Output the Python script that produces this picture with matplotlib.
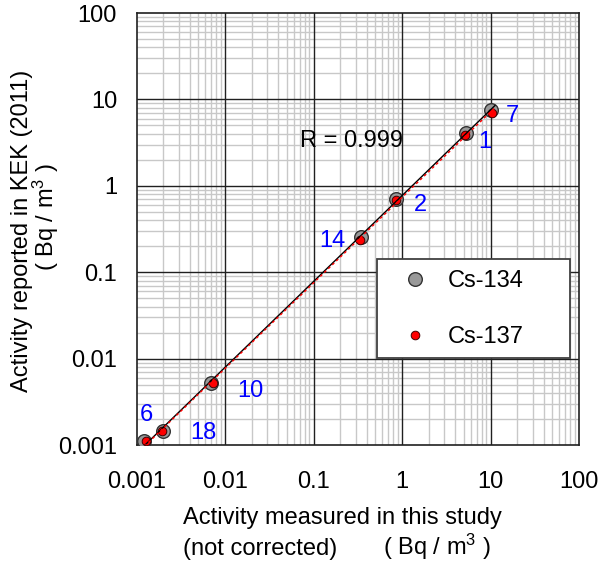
import numpy as np
import matplotlib
matplotlib.use("Agg")
import matplotlib.pyplot as plt
from matplotlib.ticker import LogLocator, FixedLocator, FixedFormatter, NullFormatter

plt.rcParams["font.family"] = ["Liberation Sans", "DejaVu Sans"]
plt.rcParams["mathtext.fontset"] = "custom"
plt.rcParams["mathtext.rm"] = "Liberation Sans"
plt.rcParams["mathtext.it"] = "Liberation Sans"
plt.rcParams["mathtext.bf"] = "Liberation Sans:bold"

# Sample numbers and activities (Bq/m3)
sample_ids = ["7", "1", "2", "14", "10", "18", "6"]
cs134_measured = [10.2, 5.25, 0.86, 0.342, 0.00695, 0.00201, 0.00122]
cs134_reported = [7.5, 4.10, 0.695, 0.258, 0.00517, 0.00146, 0.00112]
cs137_measured = [10.3, 5.15, 0.85, 0.333, 0.00726, 0.00194, 0.00128]
cs137_reported = [7.05, 3.85, 0.68, 0.233, 0.00517, 0.00145, 0.00111]

tick_values = [0.001, 0.01, 0.1, 1, 10, 100]
tick_labels = ["0.001", "0.01", "0.1", "1", "10", "100"]
r_text = "R = 0.999"
unit_text = r"( Bq / m$^{3}$ )"

FS = 17

# label offsets from each Cs-134 point, in pixels (dx right, dy down)
label_offsets = {"7": (21, 3), "1": (19, 7), "2": (24, 3), "14": (-28, 2),
                 "10": (39, 5), "18": (40, 0), "6": (2, -28)}

W, H = 601, 569
fig = plt.figure(figsize=(W / 100, H / 100), dpi=100)
ax_l, ax_r, ax_t, ax_b = 136.5, 579, 13, 445
ax = fig.add_axes([ax_l / W, 1 - ax_b / H, (ax_r - ax_l) / W, (ax_b - ax_t) / H])

ax.set_xscale("log")
ax.set_yscale("log")
ax.set_xlim(tick_values[0], tick_values[-1])
ax.set_ylim(tick_values[0], tick_values[-1])

for axis in (ax.xaxis, ax.yaxis):
    axis.set_major_locator(FixedLocator(tick_values))
    axis.set_major_formatter(FixedFormatter(tick_labels))
    axis.set_minor_locator(LogLocator(base=10, subs=np.arange(2, 10), numticks=20))
    axis.set_minor_formatter(NullFormatter())

ax.set_axisbelow(True)
ax.grid(which="minor", color="#c8c8c8", lw=1.0)
# decade lines drawn above the fine grid so they stay unbroken
for v in tick_values[1:-1]:
    ax.axvline(v, color="#202020", lw=1.0, zorder=1)
    ax.axhline(v, color="#202020", lw=1.0, zorder=1)

ax.tick_params(which="both", length=0, labelsize=FS, colors="black")
ax.tick_params(axis="x", pad=19)
ax.tick_params(axis="y", pad=14)
for s in ax.spines.values():
    s.set_color("#202020")
    s.set_linewidth(1.2)

ax.plot(cs134_measured, cs134_reported, "o", ms=9.8, mfc="#999999", mec="#333333",
        mew=1.0, label="Cs-134", zorder=3)
ax.plot(cs137_measured, cs137_reported, "o", ms=6.2, mfc="#ff0000", mec="#400000",
        mew=0.7, label="Cs-137", zorder=4)

# log-log regression lines for each nuclide
def fit_line(xv, yv):
    lx, ly = np.log10(xv), np.log10(yv)
    k, b = np.polyfit(lx, ly, 1)
    xs = np.logspace(np.log10(tick_values[0]), np.log10(max(xv) * 1.1), 50)
    return xs, 10 ** (k * np.log10(xs) + b)

xs, ys = fit_line(cs134_measured, cs134_reported)
ax.plot(xs, ys, "-", color="black", lw=1.0, zorder=5)
xs, ys = fit_line(cs137_measured, cs137_reported)
ax.plot(xs, ys, "--", color="#ff0000", lw=1.0, dashes=(2, 2), zorder=6)

for sid, xv, yv in zip(sample_ids, cs134_measured, cs134_reported):
    dx, dy = label_offsets[sid]
    ax.annotate(sid, (xv, yv), xytext=(dx * 0.72, -dy * 0.72), textcoords="offset points",
                ha="center", va="center_baseline", fontsize=FS, color="#0000ff", zorder=7)

ax.text(0.0698, 3.3, r_text, ha="left", va="center", fontsize=FS, color="black", zorder=7)

leg = ax.legend(loc="lower left", bbox_to_anchor=(0.543, 0.201, 0.437, 0.2365), mode="expand",
                fontsize=FS, frameon=True, fancybox=False, shadow=False, framealpha=1,
                edgecolor="#404040", borderpad=0.44, labelspacing=1.44, handlelength=2.4,
                handletextpad=0.15, borderaxespad=0, numpoints=1)
leg.get_frame().set_linewidth(1.3)
leg.set_zorder(8)

fig.text(342 / W, 1 - 518 / H, "Activity measured in this study", ha="center", va="center",
         fontsize=FS)
fig.text(183 / W, 1 - 549 / H, "(not corrected)", ha="left", va="center", fontsize=FS)
fig.text(383 / W, 1 - 547 / H, unit_text, ha="left", va="center", fontsize=FS)
fig.text(22 / W, 1 - 231 / H, "Activity reported in KEK (2011)", ha="center", va="center",
         rotation=90, fontsize=FS)
fig.text(46 / W, 1 - 217 / H, unit_text, ha="center", va="center", rotation=90,
         fontsize=FS)

fig.savefig("out.png", dpi=100)
